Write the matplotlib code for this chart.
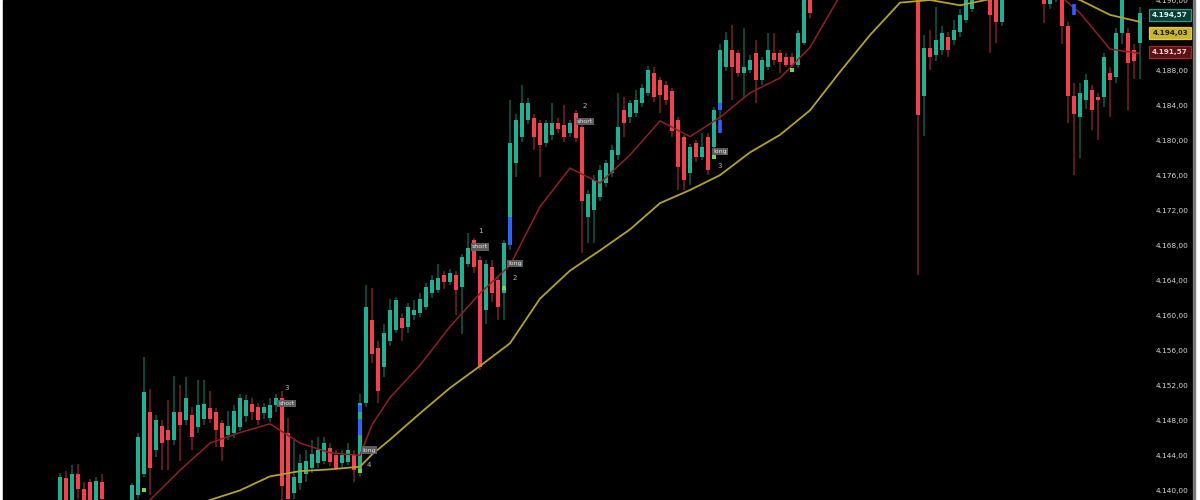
import matplotlib
matplotlib.use("Agg")
import matplotlib.pyplot as plt
from matplotlib.patches import Rectangle
from matplotlib.transforms import blended_transform_factory

# candle data, one entry per bar (index 0..180)
opens = [
    4138.0, 4141.4, 4137.8, 4141.9, 4140.2, 4140.9, 4138.5, 4141.0, 4138.6, 4137.4,
    4136.8, 4137.6, 4138.3, 4139.5, 4141.9, 4149.0, 4144.6, 4147.4, 4146.9, 4145.7,
    4148.9, 4148.0, 4148.6, 4147.2, 4148.2, 4149.4, 4148.9, 4147.7, 4146.3, 4146.6,
    4147.2, 4148.5, 4149.9, 4149.5, 4148.8, 4148.3, 4149.7, 4150.6, 4146.5, 4139.7,
    4140.8, 4141.9, 4142.6, 4143.1, 4143.4, 4144.8, 4144.0, 4143.1, 4143.2, 4144.0,
    4142.3, 4150.0, 4159.4, 4156.3, 4154.1, 4157.1, 4158.3, 4159.7, 4158.6, 4160.0,
    4160.3, 4160.9, 4162.5, 4162.9, 4164.6, 4163.8, 4164.6, 4163.2, 4165.9, 4168.6,
    4166.3, 4160.6, 4165.5, 4164.0, 4162.5, 4168.0, 4177.4, 4180.3, 4182.3, 4182.5,
    4181.9, 4179.7, 4180.6, 4181.9, 4181.7, 4180.8, 4183.1, 4181.5, 4171.2, 4172.0,
    4173.5, 4175.1, 4176.2, 4178.3, 4183.4, 4182.6, 4183.1, 4184.2, 4185.4, 4187.7,
    4186.9, 4186.3, 4185.6, 4182.3, 4180.3, 4176.2, 4179.7, 4178.1, 4180.3, 4179.2,
    4183.4, 4188.3, 4190.3, 4189.9, 4187.7, 4188.0, 4189.9, 4186.9, 4188.3, 4189.9,
    4189.9, 4189.5, 4189.5, 4188.6, 4191.1, 4197.5, 4196.8, 4198.4, 4199.6, 4198.9,
    4200.7, 4201.9, 4201.0, 4202.8, 4203.6, 4202.5, 4203.9, 4204.8, 4203.6, 4202.4,
    4203.1, 4201.8, 4200.4, 4199.2, 4185.0, 4190.5, 4189.7, 4190.3, 4191.8, 4191.4,
    4192.4, 4193.7, 4195.0, 4197.0, 4198.2, 4197.6, 4196.5, 4193.5, 4196.8, 4198.1,
    4199.0, 4198.2, 4199.4, 4198.6, 4197.4, 4195.6, 4196.3, 4197.8, 4193.0, 4185.0,
    4182.6, 4184.6, 4185.7, 4184.9, 4184.9, 4187.7, 4187.2, 4192.2, 4192.2, 4190.3,
    4191.1,
]
highs = [
    4142.0, 4142.2, 4142.9, 4143.0, 4141.0, 4141.3, 4141.5, 4141.9, 4138.8, 4138.2,
    4138.4, 4138.7, 4140.8, 4146.5, 4155.2, 4151.6, 4148.6, 4148.0, 4150.3, 4153.1,
    4152.0, 4152.9, 4149.5, 4152.6, 4152.6, 4151.4, 4149.4, 4148.0, 4149.1, 4149.7,
    4151.0, 4150.9, 4150.5, 4150.0, 4150.0, 4150.6, 4151.0, 4151.4, 4148.3, 4145.7,
    4144.2, 4144.6, 4145.7, 4146.1, 4146.1, 4145.4, 4144.6, 4144.6, 4145.4, 4144.6,
    4151.0, 4163.4, 4163.1, 4157.1, 4159.0, 4161.9, 4162.1, 4160.2, 4161.4, 4161.7,
    4162.5, 4163.7, 4164.6, 4165.9, 4165.1, 4165.3, 4165.1, 4167.0, 4169.4, 4168.8,
    4166.8, 4166.3, 4166.3, 4164.6, 4168.6, 4184.6, 4183.0, 4186.3, 4184.8, 4183.0,
    4182.3, 4182.3, 4184.2, 4182.5, 4184.0, 4182.3, 4183.4, 4181.9, 4174.3, 4176.0,
    4177.1, 4177.7, 4179.4, 4185.4, 4184.9, 4184.6, 4185.7, 4186.4, 4188.5, 4188.3,
    4187.2, 4186.8, 4186.0, 4182.6, 4180.6, 4179.6, 4180.0, 4180.8, 4180.8, 4183.8,
    4191.0, 4192.3, 4193.1, 4190.3, 4192.8, 4189.7, 4191.4, 4189.5, 4192.2, 4192.2,
    4190.3, 4189.9, 4190.0, 4192.6, 4197.0, 4198.0, 4199.0, 4200.3, 4200.8, 4201.2,
    4202.6, 4202.4, 4203.5, 4204.4, 4204.0, 4204.6, 4205.5, 4205.2, 4204.1, 4203.8,
    4203.5, 4202.3, 4200.9, 4200.0, 4192.0, 4192.6, 4195.2, 4193.0, 4192.4, 4193.7,
    4195.0, 4196.8, 4197.8, 4199.0, 4199.2, 4198.0, 4197.0, 4197.3, 4198.9, 4199.8,
    4199.6, 4200.0, 4199.9, 4199.0, 4197.9, 4197.4, 4198.3, 4198.2, 4193.5, 4186.5,
    4186.5, 4187.5, 4186.3, 4185.4, 4190.0, 4188.3, 4192.8, 4196.5, 4192.8, 4191.0,
    4195.2,
]
lows = [
    4137.5, 4137.8, 4137.2, 4139.0, 4137.5, 4137.8, 4138.0, 4137.5, 4136.5, 4136.0,
    4136.2, 4137.0, 4138.0, 4139.0, 4141.5, 4139.5, 4143.8, 4142.3, 4142.3, 4145.2,
    4143.4, 4147.5, 4144.6, 4146.5, 4147.5, 4147.7, 4144.9, 4143.4, 4145.7, 4146.0,
    4146.8, 4147.8, 4148.0, 4147.5, 4148.2, 4147.8, 4149.0, 4138.5, 4138.0, 4139.0,
    4140.0, 4141.0, 4142.0, 4142.5, 4143.0, 4142.8, 4142.3, 4142.6, 4142.9, 4140.9,
    4141.5, 4149.5, 4154.5, 4150.0, 4153.0, 4156.5, 4158.0, 4157.1, 4158.0, 4159.5,
    4159.8, 4160.6, 4162.0, 4162.5, 4163.0, 4163.4, 4160.0, 4157.9, 4165.5, 4164.8,
    4153.7, 4159.0, 4161.5, 4159.4, 4159.4, 4167.5, 4175.8, 4179.8, 4181.8, 4178.9,
    4175.8, 4179.2, 4180.0, 4180.8, 4179.8, 4180.3, 4179.8, 4167.1, 4168.2, 4168.2,
    4173.0, 4174.6, 4175.8, 4177.7, 4180.3, 4182.0, 4182.6, 4183.8, 4185.0, 4184.4,
    4183.1, 4184.0, 4180.3, 4174.3, 4174.3, 4174.9, 4177.5, 4177.7, 4176.0, 4178.9,
    4180.8, 4187.9, 4184.6, 4187.2, 4184.9, 4187.7, 4184.2, 4186.3, 4188.0, 4188.6,
    4187.7, 4188.3, 4188.3, 4188.2, 4190.9, 4194.0, 4196.5, 4197.6, 4198.0, 4198.2,
    4200.0, 4200.3, 4200.6, 4202.1, 4201.7, 4202.0, 4203.2, 4202.9, 4201.5, 4201.2,
    4200.6, 4199.0, 4197.5, 4164.6, 4180.5, 4188.0, 4189.0, 4189.7, 4189.5, 4190.9,
    4191.8, 4193.4, 4194.6, 4196.5, 4196.8, 4190.0, 4191.1, 4193.0, 4196.4, 4197.5,
    4197.4, 4197.6, 4197.8, 4196.6, 4193.4, 4195.0, 4195.8, 4191.0, 4182.0, 4176.0,
    4178.0, 4183.5, 4181.1, 4180.0, 4183.8, 4182.6, 4186.5, 4191.0, 4183.4, 4187.0,
    4187.0,
]
closes = [
    4141.5, 4138.5, 4141.9, 4140.2, 4138.5, 4138.4, 4141.1, 4139.0, 4137.4, 4136.8,
    4137.6, 4138.3, 4140.6, 4146.1, 4151.2, 4142.6, 4148.0, 4145.4, 4145.7, 4148.9,
    4147.5, 4150.5, 4146.1, 4149.7, 4149.9, 4148.2, 4146.9, 4144.9, 4147.4, 4149.1,
    4150.6, 4150.3, 4148.9, 4148.0, 4149.5, 4149.7, 4150.6, 4140.5, 4139.0, 4141.5,
    4143.1, 4143.4, 4144.2, 4144.6, 4145.4, 4143.2, 4142.5, 4144.0, 4144.6, 4142.3,
    4150.0, 4160.9, 4155.6, 4151.4, 4158.0, 4160.6, 4161.7, 4158.5, 4160.9, 4160.6,
    4161.9, 4163.2, 4164.0, 4164.3, 4163.8, 4164.8, 4162.9, 4166.6, 4167.7, 4165.5,
    4154.1, 4165.9, 4162.5, 4160.9, 4168.2, 4179.7, 4182.3, 4184.2, 4184.2, 4180.3,
    4179.4, 4181.9, 4181.9, 4181.3, 4180.3, 4181.9, 4180.2, 4173.1, 4173.9, 4175.4,
    4176.6, 4177.4, 4178.9, 4181.5, 4181.9, 4184.2, 4184.6, 4186.0, 4188.0, 4184.9,
    4185.1, 4184.6, 4181.0, 4176.9, 4175.4, 4179.2, 4178.1, 4179.2, 4176.6, 4183.4,
    4190.3, 4191.4, 4188.3, 4187.7, 4188.3, 4189.1, 4186.9, 4189.1, 4190.3, 4189.1,
    4188.9, 4188.6, 4188.6, 4192.2, 4196.5, 4194.5, 4198.4, 4199.6, 4198.9, 4200.7,
    4201.9, 4201.0, 4202.8, 4203.6, 4202.5, 4203.9, 4204.8, 4203.6, 4202.4, 4203.1,
    4201.8, 4200.4, 4199.2, 4182.9, 4190.5, 4189.5, 4191.4, 4192.2, 4190.3, 4192.6,
    4194.3, 4196.0, 4197.0, 4198.2, 4197.6, 4194.3, 4193.5, 4196.5, 4198.1, 4199.0,
    4198.2, 4199.4, 4198.6, 4197.4, 4195.6, 4196.8, 4197.6, 4193.0, 4185.0, 4183.0,
    4185.4, 4186.9, 4183.4, 4184.6, 4189.5, 4186.9, 4192.2, 4196.0, 4188.8, 4189.0,
    4194.57,
]

# moving averages at these bar indices
ma_idx = [0, 5, 10, 15, 20, 25, 30, 35, 40, 45, 50, 52, 55, 60, 65, 70, 75, 80, 85,
          90, 95, 100, 105, 110, 115, 120, 125, 130, 135, 140, 145, 150, 155, 160,
          165, 170, 175, 180]
ma_fast = [4135.5, 4136.3, 4137.0, 4138.9, 4142.3, 4145.4, 4146.6, 4147.6, 4145.4,
           4144.3, 4144.0, 4147.5, 4150.6, 4154.3, 4158.7, 4162.5, 4165.7, 4172.4,
           4176.8, 4175.1, 4178.3, 4182.2, 4180.4, 4182.6, 4185.4, 4187.1, 4190.6,
           4196.5, 4199.0, 4201.0, 4200.0, 4199.5, 4199.0, 4198.5, 4197.5, 4194.5,
           4190.4, 4189.9]
ma_slow = [4133.0, 4134.0, 4135.0, 4136.0, 4137.5, 4138.9, 4140.0, 4141.6, 4142.2,
           4142.4, 4142.7, 4144.1, 4145.8, 4148.8, 4151.7, 4154.2, 4156.8, 4161.9,
           4165.1, 4167.4, 4169.8, 4172.8, 4174.3, 4176.0, 4178.6, 4180.6, 4183.4,
           4187.8, 4192.0, 4195.7, 4196.0, 4195.4, 4196.1, 4197.0, 4197.0, 4196.0,
           4194.3, 4193.5]

# signal labels
short_x = [37.8, 70.0, 87.5]
short_y = [4149.9, 4167.8, 4182.1]
short_num = ["3", "1", "2"]
long_x = [51.5, 75.8, 110.0]
long_y = [4144.6, 4165.9, 4178.7]
long_num = ["4", "2", "3"]

entry_idx = [14, 50, 74, 109, 122]
entry_px = [4140.0, 4142.2, 4163.1, 4178.1, 4188.0]

blue_idx = [50, 50, 75, 110, 110, 169]
blue_lo = [4146.3, 4148.9, 4168.0, 4180.8, 4183.4, 4194.3]
blue_hi = [4148.2, 4149.7, 4171.2, 4182.3, 4184.2, 4195.5]

last_vals = [4194.57, 4194.03, 4191.57]
last_pos = [4194.3, 4192.2, 4190.1]

# 4.192,00 sits under the last-value boxes in the original, so it is left out
y_ticks = [4140, 4144, 4148, 4152, 4156, 4160, 4164, 4168, 4172, 4176, 4180, 4184,
           4188, 4196]

UP = "#22b095"
DOWN = "#f0424f"


def fmt(v):
    s = "{:,.2f}".format(v)
    return s.replace(",", "#").replace(".", ",").replace("#", ".")


fig = plt.figure(figsize=(12, 5), dpi=100, facecolor="white")
fig.patches.append(Rectangle((3 / 1200, 0), 1190 / 1200, 1, transform=fig.transFigure,
                             color="black", zorder=-5))
fig.patches.append(Rectangle((1193 / 1200, 0), 2 / 1200, 1, transform=fig.transFigure,
                             color="#7a7a7a", zorder=-4))

ax = fig.add_axes([3 / 1200, 0, 1142 / 1200, 1])
ax.set_facecolor("black")
for s in ax.spines.values():
    s.set_visible(False)

n = len(closes)
xs = list(range(n))
cols = [UP if closes[i] >= opens[i] else DOWN for i in xs]
bottoms = [min(opens[i], closes[i]) for i in xs]
heights = [max(abs(closes[i] - opens[i]), 0.15) for i in xs]

ax.vlines(xs, lows, highs, colors=cols, linewidth=1.1, alpha=0.5, zorder=2)
ax.bar(xs, heights, bottom=bottoms, width=0.8, color=cols, linewidth=0, zorder=3)

ax.plot(ma_idx, ma_fast, color="#8e2222", lw=1.1, zorder=4)
ax.plot(ma_idx, ma_slow, color="#b5a328", lw=1.3, zorder=4)

ax.vlines(blue_idx, blue_lo, blue_hi, colors="#2f5fff", linewidth=2.6, zorder=5)
ax.scatter(entry_idx, entry_px, marker="s", s=10, color="#6fd94a", zorder=6, linewidths=0)

box = dict(boxstyle="square,pad=0.2", fc="#5c5c5c", ec="none")
for x, y, t in zip(short_x, short_y, short_num):
    ax.text(x, y, "short", fontsize=4.5, color="#e0e0e0", ha="center", va="center",
            bbox=box, zorder=7)
    ax.text(x, y + 1.8, t, fontsize=5, color="#bdbdbd", ha="center", va="center", zorder=7)
for x, y, t in zip(long_x, long_y, long_num):
    ax.text(x, y, "long", fontsize=4.5, color="#e0e0e0", ha="center", va="center",
            bbox=box, zorder=7)
    ax.text(x, y - 1.7, t, fontsize=5, color="#bdbdbd", ha="center", va="center", zorder=7)

ax.set_xlim(-9.5, 180.83)
ax.set_ylim(4138.9, 4196.0)
ax.set_xticks([])
ax.yaxis.tick_right()
ax.set_yticks(y_ticks)
ax.set_yticklabels([fmt(v) for v in y_ticks])
ax.tick_params(axis="y", length=0, pad=7.5, labelsize=5.3, labelcolor="#d6d6d6")

tr = blended_transform_factory(ax.transAxes, ax.transData)
styles = [("#0d3d35", "#1f9e86", "#d8f5ee"),
          ("#c8b52c", "#e2cf3a", "#1a1a00"),
          ("#5a1212", "#a32525", "#f3d0d0")]
for v, p, (fc, ec, tc) in zip(last_vals, last_pos, styles):
    ax.text(1.0219, p, fmt(v), transform=tr, fontsize=5.2, color=tc, ha="center",
            va="center", clip_on=False, zorder=10, fontweight="bold",
            bbox=dict(boxstyle="square,pad=0.4", fc=fc, ec=ec, lw=0.9))

fig.savefig("out.png", dpi=100, facecolor=fig.get_facecolor())
